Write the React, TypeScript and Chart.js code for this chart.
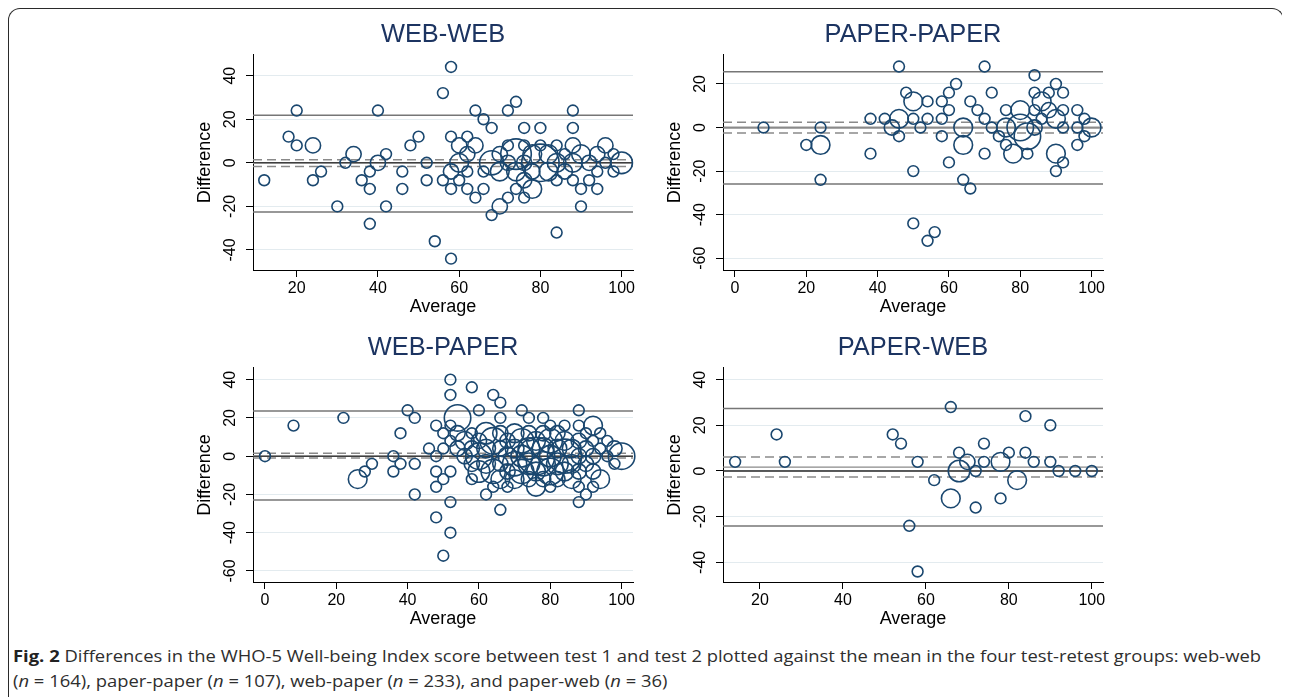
import React, { useEffect, useRef } from "react";
import { Chart, registerables } from "chart.js";
Chart.register(...registerables);

// ---------------- DATA ----------------
// WEB-WEB
const wwAvg = [12, 18, 20, 20, 24, 24, 26, 30, 32, 34, 36, 38, 38, 38, 40, 40, 42, 42, 46, 46, 48, 50, 52, 52, 54, 56, 56, 58, 58, 58, 58, 58, 60, 60, 60, 62, 62, 62, 62, 64, 64, 64, 66, 66, 66, 68, 68, 68, 70, 70, 70, 72, 72, 72, 72, 74, 74, 74, 74, 76, 76, 76, 76, 76, 78, 78, 78, 80, 80, 80, 82, 82, 84, 84, 84, 84, 86, 86, 88, 88, 88, 88, 88, 90, 90, 90, 92, 92, 94, 94, 94, 96, 96, 98, 98, 100];
const wwDiff = [-8, 12, 24, 8, 8, -8, -4, -20, 0, 4, -8, -4, -12, -28, 24, 0, 4, -20, -4, -12, 8, 12, 0, -8, -36, 32, -8, 44, 12, -12, -44, -4, 8, 0, -8, 12, 4, -4, -12, 24, 8, -16, 20, -4, -12, 16, -24, 0, -20, -4, 4, 24, 8, -16, 0, 28, 4, -4, -12, 16, 8, -8, -16, 0, -12, 4, -4, 16, 8, 0, 4, -4, 8, 0, -8, -32, -4, 4, 24, 16, 8, 0, -8, 4, -12, -20, 0, -8, 4, -4, -12, 8, 0, 4, -4, 0];
const wwCount = [1, 1, 1, 1, 2, 1, 1, 1, 1, 2, 1, 1, 1, 1, 1, 2, 1, 1, 1, 1, 1, 1, 1, 1, 1, 1, 1, 1, 1, 1, 1, 2, 2, 3, 1, 1, 2, 1, 1, 1, 2, 1, 1, 1, 1, 1, 1, 5, 2, 3, 2, 1, 1, 1, 2, 1, 8, 3, 1, 1, 1, 2, 1, 2, 3, 3, 2, 1, 1, 12, 3, 3, 1, 3, 1, 1, 2, 1, 1, 1, 2, 3, 1, 3, 1, 1, 2, 1, 2, 1, 1, 2, 1, 1, 1, 4];
const wwRef = [21.8, 1.4, -0.3, -1.7, -22.6]; // upper LoA, upper CI, mean, lower CI, lower LoA
const wwXTicks = [20, 40, 60, 80, 100];
const wwYTicks = [-40, -20, 0, 20, 40];

// PAPER-PAPER
const ppAvg = [8, 20, 24, 24, 24, 38, 38, 42, 44, 46, 46, 46, 48, 50, 50, 50, 50, 52, 54, 54, 54, 56, 58, 58, 58, 60, 60, 60, 62, 64, 64, 64, 66, 66, 68, 70, 70, 70, 72, 72, 74, 76, 76, 76, 78, 80, 80, 82, 82, 84, 84, 84, 84, 86, 86, 88, 88, 90, 90, 90, 90, 92, 92, 92, 92, 96, 96, 96, 98, 98, 100];
const ppDiff = [0, -8, 0, -8, -24, 4, -12, 4, 0, 28, 4, -4, 16, 12, 4, -20, -44, 0, 12, 4, -52, -48, 12, 4, -4, 16, 8, -16, 20, 0, -8, -24, 12, -28, 8, 28, 4, -12, 16, 0, -4, 8, 0, -8, -12, 0, 8, -4, -12, 24, 16, 8, 0, 12, 4, 16, 8, 20, 4, -12, -20, 16, 8, 0, -16, 8, 0, -8, 4, -4, 0];
const ppCount = [1, 1, 1, 3, 1, 1, 1, 1, 2, 1, 3, 1, 1, 3, 1, 1, 1, 1, 1, 1, 1, 1, 1, 1, 1, 1, 1, 1, 1, 3, 3, 1, 1, 1, 1, 1, 1, 1, 1, 1, 1, 1, 3, 1, 3, 6, 3, 6, 1, 1, 1, 1, 2, 3, 1, 1, 2, 1, 3, 3, 1, 1, 1, 1, 1, 1, 1, 1, 1, 1, 3];
const ppRef = [25.6, 2.4, -0.1, -2.5, -25.9];
const ppXTicks = [0, 20, 40, 60, 80, 100];
const ppYTicks = [-60, -40, -20, 0, 20];

// WEB-PAPER
const wpAvg = [0, 8, 22, 26, 28, 30, 36, 36, 38, 38, 40, 42, 42, 42, 46, 48, 48, 48, 48, 48, 50, 50, 50, 50, 52, 52, 52, 52, 52, 52, 52, 54, 54, 54, 56, 56, 58, 58, 58, 58, 58, 60, 60, 60, 60, 62, 62, 62, 62, 64, 64, 64, 64, 66, 66, 66, 66, 66, 66, 66, 68, 68, 68, 68, 70, 70, 70, 70, 72, 72, 72, 72, 74, 74, 74, 74, 74, 76, 76, 76, 76, 78, 78, 78, 78, 78, 80, 80, 80, 80, 80, 82, 82, 82, 82, 84, 84, 84, 84, 86, 86, 86, 88, 88, 88, 88, 88, 88, 88, 90, 90, 90, 90, 92, 92, 92, 92, 92, 94, 94, 94, 96, 96, 98, 98, 100];
const wpDiff = [0, 16, 20, -12, -8, -4, 0, -8, 12, -4, 24, 20, -4, -20, 4, 16, 0, -8, -16, -32, 12, 4, -12, -52, 40, 32, 16, 8, -8, -24, -40, 20, 12, 4, 8, 0, 36, 12, 4, -12, -4, 24, 0, 8, -8, 12, 4, -4, -20, 32, 8, -8, -16, 28, 20, 12, 4, -4, -12, -28, 8, 0, -8, -16, 12, 4, -4, -12, 24, 8, 0, -8, 20, 12, 4, -4, -12, 8, 0, -8, -16, 20, 12, 4, -4, -12, 16, 8, 0, -8, -16, 12, 4, -4, -12, 16, 8, 0, -8, 4, -4, -12, 24, 16, 8, 0, -8, -16, -24, 12, 4, -4, -20, 16, 8, 0, -8, -16, 12, 4, -12, 8, 0, 4, -4, 0];
const wpCount = [1, 1, 1, 3, 1, 1, 1, 1, 1, 1, 1, 1, 1, 1, 1, 1, 1, 1, 1, 1, 1, 1, 1, 1, 1, 1, 1, 1, 1, 1, 1, 6, 2, 2, 3, 2, 1, 1, 2, 1, 2, 1, 6, 2, 4, 4, 3, 3, 1, 1, 6, 5, 1, 1, 1, 2, 2, 2, 3, 1, 2, 3, 2, 1, 3, 3, 5, 3, 1, 5, 4, 5, 1, 2, 4, 4, 2, 3, 12, 3, 3, 1, 2, 4, 5, 2, 1, 5, 4, 6, 1, 2, 3, 4, 2, 1, 3, 10, 3, 3, 3, 3, 1, 1, 2, 2, 2, 1, 1, 1, 2, 2, 1, 3, 1, 2, 2, 1, 1, 1, 3, 1, 1, 2, 1, 6];
const wpRef = [23.6, 1.5, 0.3, -0.9, -22.9];
const wpXTicks = [0, 20, 40, 60, 80, 100];
const wpYTicks = [-60, -40, -20, 0, 20, 40];

// PAPER-WEB
const pwAvg = [14, 24, 26, 52, 54, 56, 58, 58, 62, 66, 66, 68, 68, 70, 72, 72, 74, 74, 78, 78, 80, 82, 84, 84, 86, 90, 90, 92, 96, 100];
const pwDiff = [4, 16, 4, 16, 12, -24, 4, -44, -4, 28, -12, 8, 0, 4, 0, -16, 12, 4, 4, -12, 8, -4, 24, 8, 4, 20, 4, 0, 0, 0];
const pwCount = [1, 1, 1, 1, 1, 1, 1, 1, 1, 1, 3, 1, 4, 2, 1, 1, 1, 1, 3, 1, 1, 3, 1, 1, 1, 1, 1, 1, 1, 1];
const pwRef = [27.4, 6.1, 1.7, -2.6, -24.1];
const pwXTicks = [20, 40, 60, 80, 100];
const pwYTicks = [-40, -20, 0, 20, 40];

// ---------------- STYLE ----------------
const FONT = "'Liberation Sans', Arial, Helvetica, sans-serif";
const NAVY = "#1a476f";
const TITLE_COLOR = "#1c3461";
const GRID = "#e3ebef";
const REF_GRAY = "#767676";
const DASH_GRAY = "#8a8a8a";
const BASE_R = 5.4;

const Y_AXIS_W = 63;
const X_AXIS_H = 50;
const TITLE_H = 40;
const PLOT_W = 380;

type PanelDef = {
  title: string;
  avg: number[];
  diff: number[];
  count: number[];
  refs: number[];
  xTicks: number[];
  yTicks: number[];
  xRange: number[];
  yRange: number[];
  plotLeft: number;
  plotTop: number;
  plotH: number;
};

const panels: PanelDef[] = [
  { title: "WEB-WEB", avg: wwAvg, diff: wwDiff, count: wwCount, refs: wwRef, xTicks: wwXTicks, yTicks: wwYTicks, xRange: [9.24, 102.8], yRange: [-49.2, 49.5], plotLeft: 253, plotTop: 55, plotH: 215 },
  { title: "PAPER-PAPER", avg: ppAvg, diff: ppDiff, count: ppCount, refs: ppRef, xTicks: ppXTicks, yTicks: ppYTicks, xRange: [-3.36, 103.2], yRange: [-65.4, 33.3], plotLeft: 723, plotTop: 55, plotH: 215 },
  { title: "WEB-PAPER", avg: wpAvg, diff: wpDiff, count: wpCount, refs: wpRef, xTicks: wpXTicks, yTicks: wpYTicks, xRange: [-3.36, 103.2], yRange: [-65.75, 46.1], plotLeft: 253, plotTop: 368, plotH: 214 },
  { title: "PAPER-WEB", avg: pwAvg, diff: pwDiff, count: pwCount, refs: pwRef, xTicks: pwXTicks, yTicks: pwYTicks, xRange: [11.08, 102.7], yRange: [-48.6, 45.1], plotLeft: 723, plotTop: 368, plotH: 214 },
];

function hLine(p: PanelDef, v: number) {
  return [
    { x: p.xRange[0], y: v },
    { x: p.xRange[1], y: v },
  ];
}

function BlandAltman({ p }: { p: PanelDef }) {
  const ref = useRef<HTMLCanvasElement>(null);
  const width = Y_AXIS_W * 2 + PLOT_W;
  const height = TITLE_H + p.plotH + X_AXIS_H;
  const left = p.plotLeft - Y_AXIS_W - 8;
  const top = p.plotTop - TITLE_H - 8;

  useEffect(() => {
    const bubbles = p.avg.map((x, i) => ({ x, y: p.diff[i], r: BASE_R * Math.sqrt(p.count[i]) }));
    const lineDs = (v: number, color: string, dash: number[], w: number) => ({
      type: "line" as const,
      data: hLine(p, v),
      borderColor: color,
      borderWidth: w,
      borderDash: dash,
      pointRadius: 0,
      fill: false,
      tension: 0,
      order: 2,
    });
    const chart = new Chart(ref.current!, {
      type: "bubble",
      data: {
        datasets: [
          {
            type: "bubble",
            data: bubbles,
            borderColor: NAVY,
            backgroundColor: "rgba(0,0,0,0)",
            borderWidth: 1.6,
            clip: false,
            order: 1,
          } as any,
          lineDs(p.refs[0], REF_GRAY, [], 1.5),
          lineDs(p.refs[4], REF_GRAY, [], 1.5),
          lineDs(p.refs[1], DASH_GRAY, [9, 5], 1.5),
          lineDs(p.refs[3], DASH_GRAY, [9, 5], 1.5),
          lineDs(p.refs[2], DASH_GRAY, [], 1.3),
          lineDs(0, "#262626", [], 1.6),
        ],
      },
      options: {
        responsive: false,
        maintainAspectRatio: false,
        animation: false,
        devicePixelRatio: 1,
        events: [],
        layout: { padding: 0 },
        plugins: {
          legend: { display: false },
          tooltip: { enabled: false },
          title: {
            display: true,
            text: p.title,
            color: TITLE_COLOR,
            font: { family: FONT, size: 25.4, weight: "normal" as any, lineHeight: 1.2 },
            padding: { top: 4.8, bottom: 4.7 },
          },
        },
        scales: {
          x: {
            type: "linear",
            min: p.xRange[0],
            max: p.xRange[1],
            afterBuildTicks: (s: any) => {
              s.ticks = p.xTicks.map((v) => ({ value: v }));
            },
            afterFit: (s: any) => {
              s.height = X_AXIS_H;
            },
            grid: { drawOnChartArea: false, drawTicks: true, tickLength: 7, tickColor: "#000", tickWidth: 1 },
            border: { display: true, color: "#000", width: 1 },
            ticks: {
              font: { family: FONT, size: 16 },
              color: "#000",
              padding: 1.5,
              maxRotation: 0,
              minRotation: 0,
              autoSkip: false,
            },
            title: {
              display: true,
              text: "Average",
              color: "#000",
              font: { family: FONT, size: 18 },
              padding: { top: 0, bottom: 2.2 },
            },
          },
          y: {
            type: "linear",
            position: "left",
            min: p.yRange[0],
            max: p.yRange[1],
            afterBuildTicks: (s: any) => {
              s.ticks = p.yTicks.map((v) => ({ value: v }));
            },
            afterFit: (s: any) => {
              s.width = Y_AXIS_W;
            },
            grid: { drawOnChartArea: true, color: GRID, lineWidth: 1, drawTicks: true, tickLength: 7, tickColor: "#000", tickWidth: 1 },
            border: { display: true, color: "#000", width: 1 },
            ticks: {
              font: { family: FONT, size: 16 },
              color: "#000",
              padding: 3.4,
              minRotation: 90,
              maxRotation: 90,
              crossAlign: "center",
              autoSkip: false,
            },
            title: {
              display: true,
              text: "Difference",
              color: "#000",
              font: { family: FONT, size: 18 },
              padding: { top: 4.7, bottom: 0 },
            },
          },
          // empty right-hand margin so the panel title is centred over the plot
          yRight: {
            type: "linear",
            position: "right",
            display: true,
            grid: { display: false, drawTicks: false },
            border: { display: false },
            ticks: { display: false },
            afterFit: (s: any) => {
              s.width = Y_AXIS_W;
            },
          },
        },
      } as any,
    });
    return () => chart.destroy();
  }, [p]);

  return (
    <canvas
      ref={ref}
      width={width}
      height={height}
      style={{ position: "absolute", left, top, width, height }}
    />
  );
}

function Caption() {
  const ref = useRef<HTMLDivElement>(null);
  useEffect(() => {
    const el = ref.current;
    if (!el) return;
    const first = el.firstElementChild as HTMLElement;
    const w = first.getBoundingClientRect().width;
    if (w > 0) el.style.transform = `scaleX(${1248 / w})`;
  }, []);
  return (
    <div
      ref={ref}
      style={{
        position: "absolute",
        left: 5,
        top: 635,
        fontFamily: "'Open Sans', 'Noto Sans', sans-serif",
        fontSize: 16.5,
        lineHeight: "25px",
        color: "#2e2e2e",
        whiteSpace: "nowrap",
        transformOrigin: "0 0",
      }}
    >
      <span style={{ display: "inline-block" }}>
        <b style={{ color: "#222" }}>Fig. 2</b> Differences in the WHO-5 Well-being Index score between test 1 and test 2 plotted against the mean in the four test-retest groups: web-web
      </span>
      <br />
      <span>
        (<i>n</i> = 164), paper-paper (<i>n</i> = 107), web-paper (<i>n</i> = 233), and paper-web (<i>n</i> = 36)
      </span>
    </div>
  );
}

export default function App() {
  useEffect(() => {
    document.body.style.overflow = "hidden";
  }, []);
  return (
    <div style={{ position: "relative", width: 1274, height: 689, background: "#fff", overflow: "hidden" }}>
      <div
        style={{
          position: "absolute",
          left: 0,
          top: 0,
          width: 1276,
          height: 700,
          borderLeft: "1.5px solid #2a2a2a",
          borderTop: "1.5px solid #2a2a2a",
          borderRight: "1.5px solid #2a2a2a",
          borderTopLeftRadius: 12,
          borderTopRightRadius: 12,
          boxSizing: "border-box",
        }}
      />
      {panels.map((p) => (
        <BlandAltman key={p.title} p={p} />
      ))}
      <Caption />
    </div>
  );
}
